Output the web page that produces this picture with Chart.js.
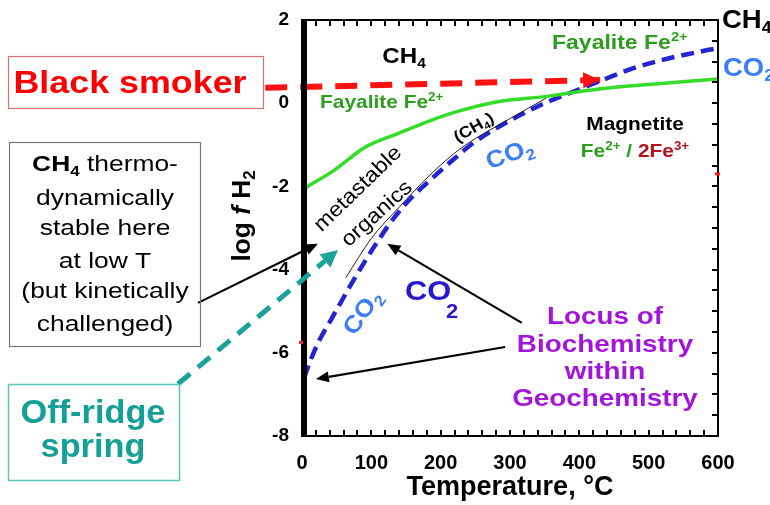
<!DOCTYPE html>
<html>
<head>
<meta charset="utf-8">
<script src="https://cdn.jsdelivr.net/npm/chart.js@4.4.1/dist/chart.umd.min.js"></script>
<style>
html, body { margin: 0; padding: 0; background: #fff; }
</style>
</head>
<body>
<canvas id="myChart" width="770" height="505"></canvas>
<script>
// values: temperature (deg C) vs log f H2
var fayaliteT = [0, 5, 43, 92, 140, 188, 222, 280, 356, 428, 500, 600];
var fayaliteLogH2 = [-2.08, -2.03, -1.65, -1.05, -0.72, -0.4, -0.21, 0.03, 0.17, 0.34, 0.45, 0.58];

var co2T = [3, 13, 25, 42, 71, 89, 108, 133, 159, 180, 198, 220, 245, 294, 342, 390, 440, 476, 520, 554, 600, 672];
var co2LogH2 = [-6.6, -6.15, -5.7, -5.2, -4.35, -3.85, -3.35, -2.75, -2.25, -1.92, -1.65, -1.33, -0.98, -0.47, -0.06, 0.27, 0.6, 0.83, 1.04, 1.17, 1.32, 1.48];

var ch4T = [63, 100, 140, 180, 220, 250, 280, 320, 352];
var ch4LogH2 = [-4.2, -3.25, -2.5, -1.8, -1.2, -0.85, -0.56, -0.18, 0.12];

// black smoker fluid, arrow
var smokerT = [-53, 430];
var smokerLogH2 = [0.37, 0.56];

var xTicks = [0, 100, 200, 300, 400, 500, 600];
var yTicks = [-8, -6, -4, -2, 0, 2];
var xMinorStep = 20, yMinorStep = 0.5;

function pts(xs, ys) {
  return xs.map(function (x, i) { return { x: x, y: ys[i] }; });
}

var FONT = '"Liberation Sans", Arial, Helvetica, sans-serif';
Chart.defaults.font.family = FONT;

var GREEN_TXT = '#2c9d1e', LBLUE = '#3c7ef5', DBLUE = '#2a18cc', PURPLE = '#a316d9', TEAL = '#14a097', DRED = '#b5121b';

// callout arrows, in data units (T, log f H2)
var callouts = [
  { from: [-150, -4.80], to: [23, -3.38], color: '#000', width: 2.2, head: 13, headW: 11 },
  { from: [317, -5.28], to: [123, -3.38], color: '#000', width: 2.2, head: 13, headW: 11 },
  { from: [293, -5.86], to: [20, -6.63], color: '#000', width: 2.2, head: 13, headW: 11 },
  { from: [-179, -6.75], to: [52, -3.53], color: '#1ba39b', width: 5, head: 17, headW: 17, dash: [16, 10] }
];

// text labels (pixel centres)
var labels = [
  { x: 404, y: 57, size: 22, parts: [['CH'], ['4', 'sub']] },
  { x: 320, y: 103, size: 19, align: 'left', color: GREEN_TXT, parts: [['Fayalite Fe'], ['2+', 'sup']] },
  { x: 552, y: 43, size: 20, sx: 1.15, align: 'left', color: GREEN_TXT, parts: [['Fayalite Fe'], ['2+', 'sup']] },
  { x: 635, y: 125, size: 19, parts: [['Magnetite']] },
  { x: 635, y: 152, size: 19, parts: [['Fe', '', GREEN_TXT], ['2+', 'sup', GREEN_TXT], [' / ', '', GREEN_TXT], ['2Fe', '', DRED], ['3+', 'sup', DRED]] },
  { x: 474, y: 128, size: 16, rot: -30, parts: [['(CH'], ['4', 'sub'], [')']] },
  { x: 358, y: 189, size: 21, rot: -44, weight: 'normal', parts: [['metastable']] },
  { x: 377, y: 214, size: 21, rot: -42, weight: 'normal', parts: [['organics']] },
  { x: 510, y: 155, size: 24, rot: -20, color: LBLUE, parts: [['CO'], ['2', 'sub']] },
  { x: 363, y: 313, size: 24, rot: -55, color: LBLUE, parts: [['CO'], ['2', 'sub']] },
  { x: 428, y: 292, size: 28, color: DBLUE, parts: [['CO']] },
  { x: 452, y: 312, size: 20, color: DBLUE, parts: [['2']] },
  { x: 722, y: 21, size: 25, align: 'left', parts: [['CH'], ['4', 'sub']] },
  { x: 723, y: 69, size: 25, align: 'left', color: LBLUE, parts: [['CO'], ['2', 'sub']] },
  { x: 605, y: 317, size: 24, sx: 1.16, color: PURPLE, parts: [['Locus of']] },
  { x: 605, y: 345, size: 24, sx: 1.16, color: PURPLE, parts: [['Biochemistry']] },
  { x: 605, y: 372, size: 24, sx: 1.16, color: PURPLE, parts: [['within']] },
  { x: 605, y: 399, size: 24, sx: 1.16, color: PURPLE, parts: [['Geochemistry']] },
  { x: 130, y: 84, size: 32, sx: 1.12, color: '#ff0000', parts: [['Black smoker']] },
  { x: 105, y: 165, size: 22, sx: 1.2, weight: 'normal', parts: [['CH', '', null, 'bold'], ['4', 'sub', null, 'bold'], [' thermo-']] },
  { x: 105, y: 199, size: 22, sx: 1.2, weight: 'normal', parts: [['dynamically']] },
  { x: 105, y: 229, size: 22, sx: 1.2, weight: 'normal', parts: [['stable here']] },
  { x: 105, y: 262, size: 22, sx: 1.2, weight: 'normal', parts: [['at low T']] },
  { x: 105, y: 292, size: 22, sx: 1.2, weight: 'normal', parts: [['(but kinetically']] },
  { x: 105, y: 325, size: 22, sx: 1.2, weight: 'normal', parts: [['challenged)']] },
  { x: 93, y: 414, size: 33, sx: 1.04, color: TEAL, parts: [['Off-ridge']] },
  { x: 93, y: 448, size: 33, sx: 1.04, color: TEAL, parts: [['spring']] }
];

var boxes = [
  { x: 8, y: 56, w: 255, h: 52, color: '#e07070', width: 1.2 },
  { x: 9, y: 142, w: 191, h: 204, color: '#777', width: 1.2 },
  { x: 8, y: 384, w: 171, h: 96, color: '#5cc5be', width: 1.5 }
];

function drawRich(ctx, l) {
  var size = l.size, sx = l.sx || 1.1, weight = l.weight || 'bold';
  ctx.save();
  ctx.translate(l.x, l.y);
  ctx.rotate((l.rot || 0) * Math.PI / 180);
  ctx.scale(sx, 1);
  ctx.textBaseline = 'middle';
  ctx.textAlign = 'left';
  var items = l.parts.map(function (p) {
    var k = p[1] || '';
    var s = (k === 'sub' || k === 'sup') ? size * 0.64 : size;
    var f = (k === 'i' ? 'italic ' : '') + (p[3] || weight) + ' ' + s + 'px ' + FONT;
    ctx.font = f;
    return { t: p[0], f: f, w: ctx.measureText(p[0]).width, c: p[2] || l.color || '#000',
      dy: k === 'sub' ? size * 0.32 : (k === 'sup' ? -size * 0.3 : 0) };
  });
  var total = items.reduce(function (s, it) { return s + it.w; }, 0);
  var cx = l.align === 'left' ? 0 : -total / 2;
  items.forEach(function (it) {
    ctx.font = it.f;
    ctx.fillStyle = it.c;
    ctx.fillText(it.t, cx, it.dy);
    cx += it.w;
  });
  ctx.restore();
}

function arrow(ctx, x1, y1, x2, y2, o) {
  var ang = Math.atan2(y2 - y1, x2 - x1);
  var bx = x2 - o.head * Math.cos(ang), by = y2 - o.head * Math.sin(ang);
  var hw = o.headW / 2;
  ctx.save();
  ctx.strokeStyle = o.color;
  ctx.fillStyle = o.color;
  ctx.lineWidth = o.width;
  ctx.setLineDash(o.dash || []);
  ctx.beginPath();
  ctx.moveTo(x1, y1);
  ctx.lineTo(bx, by);
  ctx.stroke();
  ctx.setLineDash([]);
  ctx.beginPath();
  ctx.moveTo(x2, y2);
  ctx.lineTo(bx + hw * Math.sin(ang), by - hw * Math.cos(ang));
  ctx.lineTo(bx - hw * Math.sin(ang), by + hw * Math.cos(ang));
  ctx.closePath();
  ctx.fill();
  ctx.restore();
}

var overlay = {
  id: 'overlay',
  afterDatasetsDraw: function (chart) {
    var ctx = chart.ctx, a = chart.chartArea, xs = chart.scales.x, ys = chart.scales.y;
    ctx.save();
    ctx.setLineDash([]);
    // frame
    ctx.strokeStyle = '#000';
    ctx.lineWidth = 2;
    ctx.strokeRect(a.left, a.top, a.right - a.left, a.bottom - a.top);
    // inward tick marks
    ctx.fillStyle = '#000';
    var t, v, px, py;
    for (t = xs.min + xMinorStep; t < xs.max; t += xMinorStep) {
      px = Math.round(xs.getPixelForValue(t));
      ctx.fillRect(px - 1, a.bottom - 6, 2, 6);
      ctx.fillRect(px - 1, a.top, 2, 6);
    }
    for (v = ys.min + yMinorStep; v < ys.max; v += yMinorStep) {
      py = Math.round(ys.getPixelForValue(v));
      ctx.fillRect(a.right - 6, py - 1, 6, 2);
    }
    // heavy left axis bar
    ctx.fillRect(a.left - 1, a.top - 1, 6, a.bottom - a.top + 2);

    // small red marks on the axes
    ctx.fillStyle = '#ff2020';
    ctx.fillRect(xs.getPixelForValue(600) - 3, ys.getPixelForValue(-1.7) - 1.5, 5, 3);
    ctx.fillRect(xs.getPixelForValue(0) - 3, ys.getPixelForValue(-5.75) - 1.5, 4, 3);
    ctx.restore();

    // arrowhead for the black smoker line
    var n = smokerT.length;
    var sx1 = xs.getPixelForValue(smokerT[n - 2]), sy1 = ys.getPixelForValue(smokerLogH2[n - 2]);
    var sx2 = xs.getPixelForValue(smokerT[n - 1]), sy2 = ys.getPixelForValue(smokerLogH2[n - 1]);
    var ang = Math.atan2(sy2 - sy1, sx2 - sx1);
    arrow(ctx, sx2 - 2 * Math.cos(ang), sy2 - 2 * Math.sin(ang), sx2, sy2, { color: '#ff1111', width: 0, head: 17, headW: 16 });

    callouts.forEach(function (c) {
      arrow(ctx, xs.getPixelForValue(c.from[0]), ys.getPixelForValue(c.from[1]),
        xs.getPixelForValue(c.to[0]), ys.getPixelForValue(c.to[1]), c);
    });

    boxes.forEach(function (b) {
      ctx.save();
      ctx.strokeStyle = b.color;
      ctx.lineWidth = b.width;
      ctx.strokeRect(b.x + 0.5, b.y + 0.5, b.w, b.h);
      ctx.restore();
    });

    labels.forEach(function (l) { drawRich(ctx, l); });

    // y axis title
    drawRich(ctx, { x: 243, y: 216, size: 25, rot: -90, sx: 1.05,
      parts: [['log '], ['f', 'i'], [' H'], ['2', 'sub']] });
  }
};

var ctx = document.getElementById('myChart');
var myChart = new Chart(ctx, {
  type: 'line',
  data: {
    datasets: [{
      label: 'Fayalite',
      data: pts(fayaliteT, fayaliteLogH2),
      borderColor: '#35dd2a',
      borderWidth: 3.5,
      cubicInterpolationMode: 'monotone'
    }, {
      label: 'CH4 boundary',
      data: pts(ch4T, ch4LogH2),
      borderColor: '#222',
      borderWidth: 1,
      cubicInterpolationMode: 'monotone'
    }, {
      label: 'CO2 / CH4',
      data: pts(co2T, co2LogH2),
      borderColor: '#2424d0',
      borderWidth: 4.5,
      borderDash: [13, 7],
      cubicInterpolationMode: 'monotone',
      clip: false
    }, {
      label: 'Black smoker',
      data: pts(smokerT, smokerLogH2),
      borderColor: '#ff1111',
      borderWidth: 6,
      borderDash: [22, 13],
      clip: false
    }]
  },
  options: {
    responsive: false,
    animation: false,
    layout: { padding: { top: 20, right: 52, left: 0, bottom: 0 } },
    elements: { point: { radius: 0 }, line: { fill: false } },
    plugins: { legend: { display: false }, tooltip: { enabled: false } },
    scales: {
      x: {
        type: 'linear', min: 0, max: 600,
        afterFit: function (s) { s.height = 69; },
        afterBuildTicks: function (s) { s.ticks = xTicks.map(function (v) { return { value: v }; }); },
        grid: { display: false },
        border: { display: false },
        ticks: { padding: 7, color: '#000', maxRotation: 0, autoSkip: false, font: { size: 20, weight: 'bold' } },
        title: { display: true, text: 'Temperature, °C', color: '#000', font: { size: 27, weight: 'bold' }, padding: { top: 0, bottom: 1 } }
      },
      y: {
        type: 'linear', min: -8, max: 2,
        afterFit: function (s) { s.width = 302; },
        afterBuildTicks: function (s) { s.ticks = yTicks.map(function (v) { return { value: v }; }); },
        grid: { display: false },
        border: { display: false },
        ticks: { padding: 5, color: '#000', autoSkip: false, font: { size: 19, weight: 'bold' } }
      }
    }
  },
  plugins: [overlay]
});
</script>
</body>
</html>
